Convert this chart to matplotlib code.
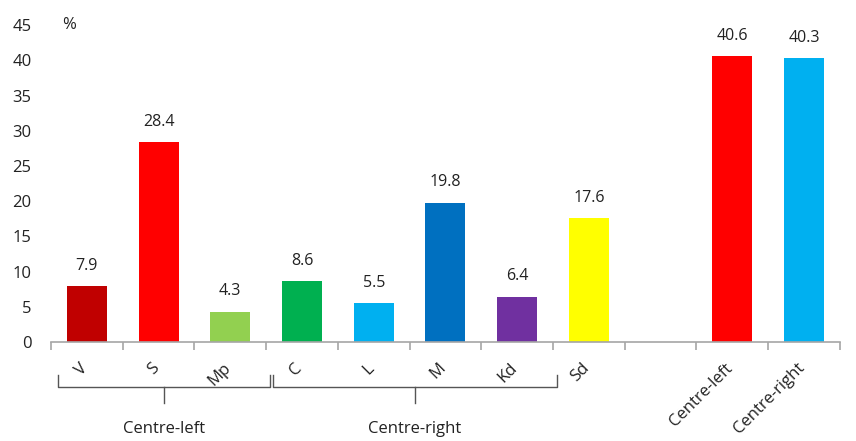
import matplotlib
matplotlib.use("Agg")
import matplotlib.pyplot as plt
import matplotlib.transforms as mtransforms
import numpy as np

plt.rcParams['font.family'] = ['Open Sans', 'DejaVu Sans']

# data
parties = ['V', 'S', 'Mp', 'C', 'L', 'M', 'Kd', 'Sd', '', 'Centre-left', 'Centre-right']
values = [7.9, 28.4, 4.3, 8.6, 5.5, 19.8, 6.4, 17.6, np.nan, 40.6, 40.3]
colors = ['#C00000', '#FF0000', '#92D050', '#00B050', '#00B0F0', '#0070C0',
          '#7030A0', '#FFFF00', 'white', '#FF0000', '#00B0F0']
groups = [('Centre-left', 0, 2), ('Centre-right', 3, 6)]
yticks = [0, 5, 10, 15, 20, 25, 30, 35, 40, 45]

txt = '#222222'
fig = plt.figure(figsize=(8.56, 4.41), dpi=100)
ax = fig.add_axes([0.0596, 0.2245, 0.9215, 0.7185])

x = np.arange(len(parties))
bars = ax.bar(x, np.nan_to_num(values), width=0.56, color=colors)
for xi, v in zip(x, values):
    if not np.isnan(v):
        ax.annotate(f'{v:.1f}', (xi, v), xytext=(0, 9), textcoords='offset points',
                    ha='center', va='bottom', fontsize=11.5, color=txt)

ax.set_xlim(-0.5, len(parties) - 0.5)
ax.set_ylim(0, 45)
ax.set_yticks(yticks)
ax.tick_params(axis='y', length=0, labelsize=12, labelcolor=txt, pad=14)
for s in ['top', 'right', 'left']:
    ax.spines[s].set_visible(False)
ax.spines['bottom'].set_color('#A6A6A6')
ax.spines['bottom'].set_linewidth(1.2)

ax.set_xticks(x + 0.05)
ax.set_xticklabels(parties, rotation=45, ha='right', va='top', fontsize=12, color=txt)
ax.tick_params(axis='x', which='major', length=0, pad=13)
ax.set_xticks(np.arange(len(parties) + 1) - 0.5, minor=True)
ax.tick_params(axis='x', which='minor', length=6, color='#A6A6A6', width=1.2)

ax.text(0.014, 1.0, '%', transform=ax.transAxes, fontsize=12, color=txt, va='center')

# brackets under the grouped parties
tr = mtransforms.blended_transform_factory(ax.transData, ax.transAxes)
for name, a, b in groups:
    x0, x1 = a - 0.4, b + 0.55
    xm = (x0 + x1) / 2
    ax.plot([x0, x0, x1, x1], [-0.104, -0.142, -0.142, -0.104], transform=tr,
            color='#555555', lw=1, clip_on=False)
    ax.plot([xm, xm], [-0.142, -0.192], transform=tr, color='#555555', lw=1, clip_on=False)
    ax.text(xm, -0.275, name, transform=tr, ha='center', va='center', fontsize=12, color=txt)

fig.savefig('out.png', dpi=100)
